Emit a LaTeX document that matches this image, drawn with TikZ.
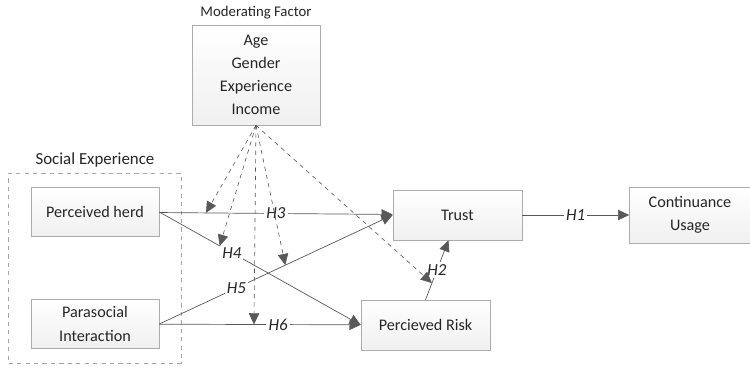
\documentclass[tikz,border=0pt]{standalone}
\usepackage{fontspec}
\setmainfont{Carlito}
\usepackage{tikz}
\usetikzlibrary{arrows.meta, positioning, fit, shadows, calc}
\tikzset{
  model_box/.style={rectangle, draw=gray!65, top color=white, bottom color=gray!12, minimum width=3.2cm, minimum height=1.225cm, align=center, text=black!85, font=\fontsize{11.5}{16.5}\selectfont, drop shadow={shadow xshift=0.6pt, shadow yshift=-0.6pt, opacity=0.25}},
  group_box/.style={draw=gray!70, dashed, inner xsep=0.55cm, inner ysep=0.35cm},
  group_label/.style={text=black!85, font=\fontsize{12}{14}\selectfont},
  arrow/.style={-{Triangle[length=2.8mm, width=2.6mm]}, gray!70!black, line width=0.5pt},
  moderate/.style={-{Triangle[length=2.8mm, width=2.6mm]}, gray!70!black, dashed, line width=0.45pt},
  hyp/.style={fill=white, inner sep=1.5pt, text=black!85, font=\fontsize{12}{14}\selectfont\itshape}
}

\begin{document}
\begin{tikzpicture}[x=0.025cm, y=-0.025cm]
  \useasboundingbox (0,0) rectangle (750,368);

  % --- Main Blocks ---
  \node[model_box, minimum height=2.5cm] (mod) at (256,75) {Age\\Gender\\Experience\\Income};
  \node[group_label, font=\fontsize{10.5}{12}\selectfont, above=0.02cm of mod] (mod_label) {Moderating Factor};

  \node[model_box] (herd) at (95,212) {Perceived herd};
  \node[model_box] (para) at (95,324) {Parasocial\\Interaction};

  \node[model_box, minimum width=3.225cm, minimum height=1.25cm] (trust) at (457.5,215) {Trust};
  \node[model_box, minimum width=3.225cm, minimum height=1.25cm] (risk) at (425.5,325) {Percieved Risk};
  \node[model_box, minimum width=3.025cm, minimum height=1.4cm] (usage) at (690,215) {Continuance\\Usage};

  % --- Social Experience group ---
  \node[group_box, fit=(herd) (para)] (social_box) {};
  \node[group_label, above=0.02cm of social_box] (social_label) {Social Experience};

  % --- Hypotheses ---
  \draw[arrow] (herd) -- coordinate[pos=0.2] (m_h3) node[hyp] {H3} (trust);
  \draw[arrow] (herd.east) -- coordinate[pos=0.3] (m_h4) node[hyp, pos=0.36] {H4} (risk.west);
  \draw[arrow] (para.east) -- coordinate[pos=0.54] (m_h5) node[hyp, pos=0.33] {H5} (trust.west);
  \draw[arrow] (para) -- coordinate[pos=0.47] (m_h6) node[hyp, pos=0.59] {H6} (risk);
  \draw[arrow] (risk.north) -- coordinate[pos=0.28] (m_h2) node[hyp] {H2} ([xshift=-0.225cm]trust.south);
  \draw[arrow] (trust) -- node[hyp] {H1} (usage);

  % --- Moderating effects ---
  \foreach \target in {m_h3, m_h4, m_h5, m_h6, m_h2}
    \draw[moderate] (mod.south) -- (\target);
\end{tikzpicture}
\end{document}
